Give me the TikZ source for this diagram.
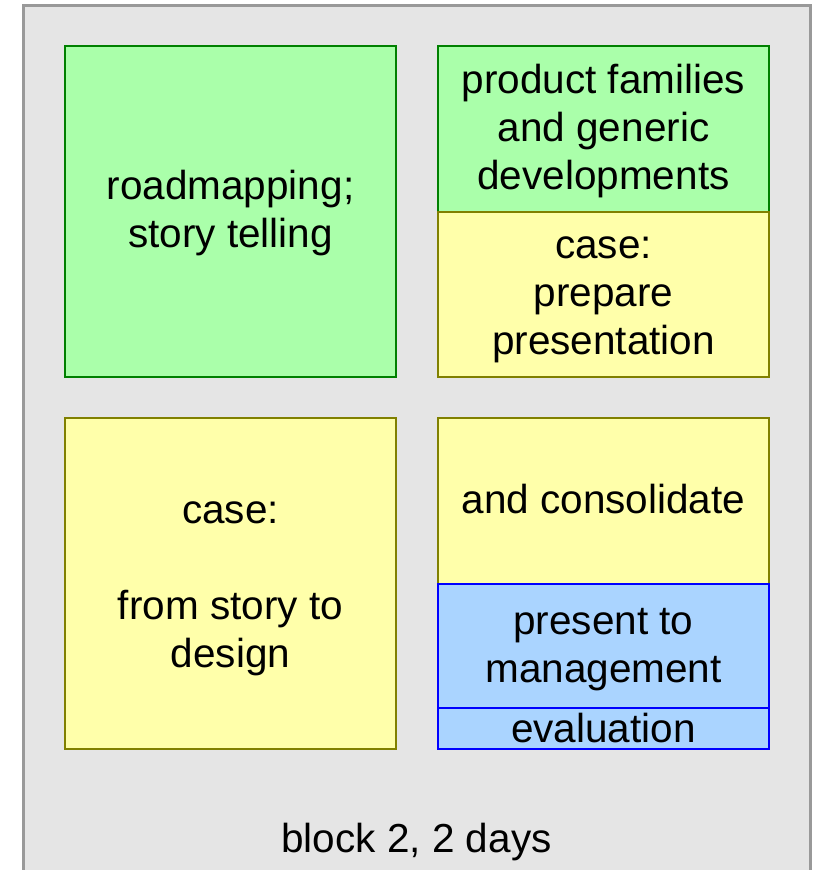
\documentclass[tikz,border=0pt]{standalone}
\usepackage{fontspec}
\setmainfont{Liberation Sans}
\definecolor{gfill}{HTML}{AAFFAA}
\definecolor{gline}{HTML}{008000}
\definecolor{yfill}{HTML}{FFFFAA}
\definecolor{yline}{HTML}{808000}
\definecolor{bfill}{HTML}{AAD4FF}
\definecolor{bline}{HTML}{0000FF}
\definecolor{bgfill}{HTML}{E5E5E5}
\definecolor{bgline}{HTML}{999999}
\newcommand\bst{\rule[-12pt]{0pt}{48pt}}
\tikzset{
  box/.style={rectangle, inner sep=0pt, outer sep=0pt, line width=1.8pt, align=center,
    font=\fontsize{40.5}{48}\selectfont, text=black},
  greenbox/.style={box, draw=gline, fill=gfill},
  yellowbox/.style={box, draw=yline, fill=yfill},
  bluebox/.style={box, draw=bline, fill=bfill},
}
\begin{document}
\begin{tikzpicture}[x=1pt,y=-1pt]
\useasboundingbox (0,0) rectangle (814,870);
\clip (0,0) rectangle (814,870);
\fill[white] (0,0) rectangle (814,870);
\draw[bgline, fill=bgfill, line width=3pt] (23,5) rectangle (810,890);
\node[greenbox, minimum width=331pt, minimum height=331pt] (road) at (230.5,211.5) {\bst roadmapping;\\\bst story telling};
\node[greenbox, minimum width=331pt, minimum height=166pt] (prod) at (603.5,129) {\bst product families\\\bst and generic\\\bst developments};
\node[yellowbox, minimum width=331pt, minimum height=165pt] (prep) at (603.5,294.5) {\bst case:\\\bst prepare\\\bst presentation};
\node[yellowbox, minimum width=331pt, minimum height=331pt] (story) at (230.5,583.5) {\bst case:\\\bst\\\bst from story to\\\bst design};
\node[yellowbox, minimum width=331pt, minimum height=166pt] (cons) at (603.5,501) {\bst and consolidate};
\node[bluebox, minimum width=331pt, minimum height=124pt] (pres) at (603.5,646) {\bst present to\\\bst management};
\node[bluebox, minimum width=331pt, minimum height=41pt] (eval) at (603.5,728.5) {evaluation};
\node[font=\fontsize{40.5}{48}\selectfont, inner sep=0pt, anchor=base] (lbl) at (416.5,852) {block 2, 2 days};
\end{tikzpicture}
\end{document}
